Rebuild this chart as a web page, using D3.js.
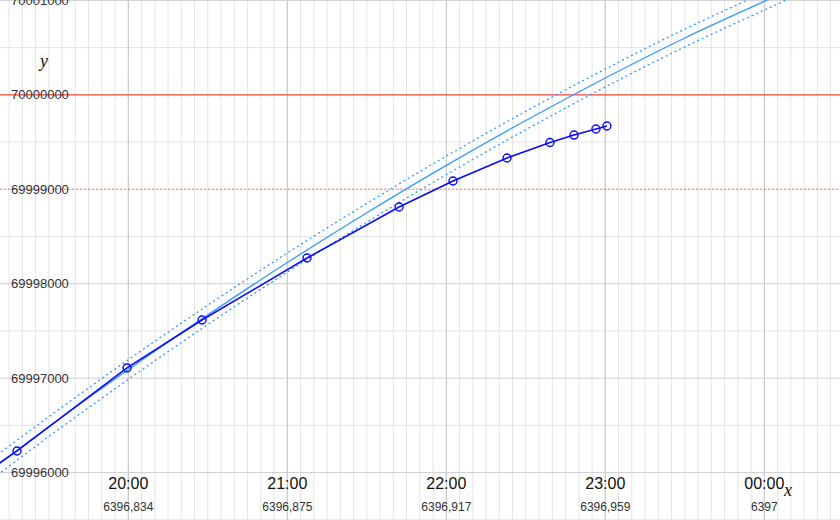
<!DOCTYPE html>
<html><head><meta charset="utf-8">
<script src="https://cdn.jsdelivr.net/npm/d3@7"></script>
<style>body{margin:0;background:#fff}svg{display:block}</style>
</head><body>
<svg id="c" width="840" height="520"></svg>
<script>
// observations: x in days, y values
const obsX = [6396.78125, 6396.80417, 6396.83300, 6396.85265, 6396.88017, 6396.90429, 6396.91842, 6396.93258, 6396.94383, 6396.95013, 6396.95588, 6396.95875];
const obsY = [69995583, 69996229, 69997108, 69997616, 69998272, 69998812, 69999087, 69999331, 69999495, 69999574, 69999638, 69999670];
const obsShown = [false, true, true, true, true, true, true, true, true, true, true, true];
// fitted curve and its band, sampled every half hour (19:00 .. 00:30)
const fitX = [6396.79167, 6396.8125, 6396.83333, 6396.85417, 6396.875, 6396.89583, 6396.91667, 6396.9375, 6396.95833, 6396.97917, 6397.0, 6397.02083];
const fitY = [69995855, 69996486, 69997091, 69997670, 69998224, 69998751, 69999253, 69999728, 70000178, 70000602, 70000990, 70001372];
const fitUpper = [69995962, 69996591, 69997195, 69997772, 69998325, 69998850, 69999351, 69999825, 70000273, 70000696, 70001083, 70001464];
const fitLower = [69995748, 69996381, 69996987, 69997568, 69998123, 69998652, 69999155, 69999631, 70000083, 70000508, 70000897, 70001280];
// reference levels
const refSolid = 70000000;
const refDashed = 69999000;
// ticks
const yTicks = [69996000, 69997000, 69998000, 69999000, 70000000, 70001000];
const yMinor = [69995500, 69996500, 69997500, 69998500, 69999500, 70000500];
const xTickDays = [6396.83333, 6396.875, 6396.91667, 6396.95833, 6397.0];
const xTickTimes = ["20:00", "21:00", "22:00", "23:00", "00:00"];
const xTickNums = ["6396,834", "6396,875", "6396,917", "6396,959", "6397"];

const W = 840, H = 520;
const svg = d3.select("#c");
const x = d3.scaleLinear().domain([6396.79971, 6397.01983]).range([0, W]);
const y = d3.scaleLinear().domain([69995498, 70001004]).range([H, 0]);

// minor vertical grid every 5 minutes
const minorX = d3.range(Math.ceil(x.domain()[0]*288), Math.floor(x.domain()[1]*288)+1).map(k => k/288);
const g = svg.append("g");
g.selectAll(".vm").data(minorX).join("line")
  .attr("x1", d => x(d)).attr("x2", d => x(d)).attr("y1", 0).attr("y2", H)
  .attr("stroke", "#e4e4e4").attr("stroke-width", 1);
g.selectAll(".hm").data(yMinor).join("line")
  .attr("x1", 0).attr("x2", W).attr("y1", d => y(d)).attr("y2", d => y(d))
  .attr("stroke", "#e4e4e4").attr("stroke-width", 1);
g.selectAll(".vM").data(xTickDays).join("line")
  .attr("x1", d => x(d)).attr("x2", d => x(d)).attr("y1", 0).attr("y2", H)
  .attr("stroke", "#c4c4c4").attr("stroke-width", 1);
g.selectAll(".hM").data(yTicks.filter(v => v !== refSolid && v !== refDashed)).join("line")
  .attr("x1", 0).attr("x2", W).attr("y1", d => y(d)).attr("y2", d => y(d))
  .attr("stroke", "#cfcfcf").attr("stroke-width", 1);

// reference lines
svg.append("line").attr("x1", 0).attr("x2", W).attr("y1", y(refSolid)).attr("y2", y(refSolid))
  .attr("stroke", "#ff4433").attr("stroke-width", 1.2);
svg.append("line").attr("x1", 0).attr("x2", W).attr("y1", y(refDashed)).attr("y2", y(refDashed))
  .attr("stroke", "#ff5555").attr("stroke-width", 1.2).attr("stroke-dasharray", "2.5,1.5")
  .attr("stroke-opacity", 0.8);

// y tick labels
svg.selectAll(".yl").data(yTicks).join("text")
  .attr("x", 11).attr("y", d => y(d)).attr("dy", "0.35em")
  .attr("font-family", "Liberation Sans, Arial, sans-serif").attr("font-size", 13)
  .attr("fill", "#333").text(d => d);

// x tick labels
svg.selectAll(".xt").data(xTickDays).join("text")
  .attr("x", d => x(d)).attr("y", 489).attr("text-anchor", "middle")
  .attr("font-family", "Liberation Sans, Arial, sans-serif").attr("font-size", 16)
  .attr("fill", "#111").text((d, i) => xTickTimes[i]);
svg.selectAll(".xn").data(xTickDays).join("text")
  .attr("x", d => x(d)).attr("y", 511).attr("text-anchor", "middle")
  .attr("font-family", "Liberation Sans, Arial, sans-serif").attr("font-size", 12)
  .attr("fill", "#333").text((d, i) => xTickNums[i]);

// axis names
svg.append("text").attr("x", 44).attr("y", 67).attr("text-anchor", "middle")
  .attr("font-family", "Liberation Serif, Times New Roman, serif").attr("font-style", "italic")
  .attr("font-size", 18).attr("fill", "#111").text("y");
svg.append("text").attr("x", 788).attr("y", 496).attr("text-anchor", "middle")
  .attr("font-family", "Liberation Serif, Times New Roman, serif").attr("font-style", "italic")
  .attr("font-size", 18).attr("fill", "#111").text("x");

// fit curve and band
const fitLine = arr => d3.line().x((d, i) => x(fitX[i])).y(d => y(d)).curve(d3.curveMonotoneX)(arr);
svg.append("path").attr("d", fitLine(fitUpper)).attr("fill", "none")
  .attr("stroke", "#3399ff").attr("stroke-width", 1.3).attr("stroke-dasharray", "2,3");
svg.append("path").attr("d", fitLine(fitLower)).attr("fill", "none")
  .attr("stroke", "#3399ff").attr("stroke-width", 1.3).attr("stroke-dasharray", "2,3");
svg.append("path").attr("d", fitLine(fitY)).attr("fill", "none")
  .attr("stroke", "#3399ff").attr("stroke-width", 1.3);

// observations
const obs = obsX.map((d, i) => ({x: d, y: obsY[i], s: obsShown[i]}));
svg.append("path").attr("d", d3.line().x(d => x(d.x)).y(d => y(d.y))(obs))
  .attr("fill", "none").attr("stroke", "#0a0aff").attr("stroke-width", 1.6);
svg.selectAll(".pt").data(obs.filter(d => d.s)).join("circle")
  .attr("cx", d => x(d.x)).attr("cy", d => y(d.y)).attr("r", 4)
  .attr("fill", "none").attr("stroke", "#0a0aff").attr("stroke-width", 1.4);
</script>
</body></html>
